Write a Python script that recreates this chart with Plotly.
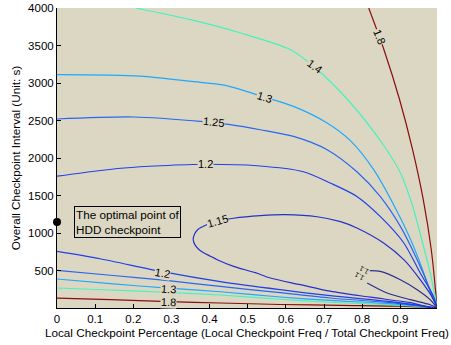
import plotly.graph_objects as go

# ---- contour lines (x: local checkpoint fraction, y: interval in s)
c18_up_x = [0.817, 0.857, 0.898, 0.932, 0.960, 0.981, 0.992, 0.996]
c18_up_y = [4000, 3444, 2777, 2111, 1444, 777, 244, 0]
c18_lo_x = [0, 0.140, 0.292, 0.428, 0.585, 0.743, 0.900, 0.996]
c18_lo_y = [131, 111, 84, 67, 47, 35, 24, 0]

c14_up_x = [0.206, 0.350, 0.481, 0.612, 0.674, 0.769, 0.855, 0.900, 0.931, 0.956, 0.978, 0.990, 0.996]
c14_up_y = [4000, 3844, 3667, 3444, 3217, 2737, 2177, 1804, 1377, 911, 471, 177, 0]
c14_lo_x = [0, 0.140, 0.292, 0.428, 0.585, 0.716, 0.874, 0.996]
c14_lo_y = [267, 240, 207, 173, 117, 77, 44, 0]

c13_up_x = [0, 0.218, 0.358, 0.438, 0.543, 0.620, 0.708, 0.769, 0.830, 0.887, 0.929, 0.963, 0.978, 0.996]
c13_up_y = [3111, 3091, 3017, 2971, 2813, 2688, 2467, 2231, 1844, 1331, 888, 444, 217, 0]
c13_lo_x = [0, 0.140, 0.292, 0.428, 0.585, 0.716, 0.874, 0.996]
c13_lo_y = [387, 324, 264, 217, 147, 101, 57, 0]

c125_up_x = [0, 0.201, 0.376, 0.454, 0.533, 0.620, 0.708, 0.786, 0.847, 0.900, 0.944, 0.978, 0.996]
c125_up_y = [2520, 2547, 2488, 2444, 2377, 2288, 2111, 1817, 1488, 1088, 644, 244, 0]
c125_lo_x = [0, 0.140, 0.292, 0.428, 0.585, 0.716, 0.874, 0.996]
c125_lo_y = [501, 437, 364, 288, 204, 133, 71, 0]

c12_up_x = [0, 0.087, 0.176, 0.271, 0.389, 0.525, 0.646, 0.716, 0.786, 0.847, 0.909, 0.952, 0.987, 0.996]
c12_up_y = [1757, 1817, 1867, 1897, 1917, 1897, 1817, 1667, 1488, 1221, 867, 467, 155, 0]
c12_lo_x = [0, 0.113, 0.276, 0.428, 0.585, 0.716, 0.874, 0.996]
c12_lo_y = [755, 657, 484, 351, 244, 164, 84, 0]

c115_x = [0.996, 0.926, 0.821, 0.716, 0.638, 0.559, 0.520, 0.463, 0.420, 0.402, 0.376, 0.363, 0.357,
          0.361, 0.370, 0.389, 0.419, 0.463, 0.533, 0.598, 0.682, 0.743, 0.786, 0.856, 0.909, 0.952, 0.987, 0.996]
c115_y = [0, 71, 144, 224, 311, 400, 471, 555, 644, 691, 764, 831, 911,
          991, 1051, 1104, 1157, 1197, 1231, 1244, 1217, 1151, 1067, 867, 644, 377, 111, 0]

c11_up_x = [0.816, 0.847, 0.900, 0.944, 0.978, 0.996]
c11_up_y = [497, 488, 377, 244, 111, 0]
c11_lo_x = [0.813, 0.865, 0.926, 0.978, 0.996]
c11_lo_y = [333, 200, 111, 44, 0]

# contour labels: text, x, y
label_text = ["1.8", "1.4", "1.3", "1.25", "1.2", "1.15", "1.2", "1.3", "1.8", "1.1", "1.1"]
label_x = [0.844, 0.674, 0.543, 0.411, 0.389, 0.420, 0.276, 0.292, 0.292, 0.806, 0.793]
label_y = [3621, 3221, 2813, 2475, 1917, 1157, 471, 253, 80, 508, 420]

# optimal point
opt_x = [0]
opt_y = [1147]
opt_text = "The optimal point of<br>HDD checkpoint"

x_tickvals = [0, 0.1, 0.2, 0.3, 0.4, 0.5, 0.6, 0.7, 0.8, 0.9]
y_tickvals = [500, 1000, 1500, 2000, 2500, 3000, 3500, 4000]
x_title = "Local Checkpoint Percentage (Local Checkpoint Freq / Total Checkpoint Freq)"
y_title = "Overall Checkpoint Interval (Unit: s)"

# ---- styles
BG = "#dcd7c3"
FONT = "Liberation Sans, Arial, sans-serif"
col = {1.8: "#8a0d0d", 1.4: "#45f2be", 1.3: "#1ea8ff", 1.25: "#2a66f2",
       1.2: "#2040ea", 1.15: "#2630c8", 1.1: "#2b2f8f"}
label_angle = [68, 36, 17, 6, 0, -16, 10, 4, 2, -150, -150]
label_size = [11, 11, 11, 11, 11, 11, 11, 11, 11, 7, 7]

lines = [
    (c18_up_x, c18_up_y, 1.8), (c18_lo_x, c18_lo_y, 1.8),
    (c14_up_x, c14_up_y, 1.4), (c14_lo_x, c14_lo_y, 1.4),
    (c13_up_x, c13_up_y, 1.3), (c13_lo_x, c13_lo_y, 1.3),
    (c125_up_x, c125_up_y, 1.25), (c125_lo_x, c125_lo_y, 1.25),
    (c12_up_x, c12_up_y, 1.2), (c12_lo_x, c12_lo_y, 1.2),
    (c115_x, c115_y, 1.15),
    (c11_up_x, c11_up_y, 1.1), (c11_lo_x, c11_lo_y, 1.1),
]

fig = go.Figure()
for xs, ys, lv in lines:
    fig.add_trace(go.Scatter(x=xs, y=ys, mode="lines",
                             line=dict(color=col[lv], width=1.2, shape="spline", smoothing=0.8),
                             hoverinfo="skip", showlegend=False))

fig.add_trace(go.Scatter(x=opt_x, y=opt_y, mode="markers",
                         marker=dict(color="black", size=8), cliponaxis=False,
                         showlegend=False, hoverinfo="skip"))

for t, x, y, a, s in zip(label_text, label_x, label_y, label_angle, label_size):
    fig.add_annotation(x=x, y=y, text=t, showarrow=False, textangle=a,
                       font=dict(family=FONT, size=s, color="black"),
                       bgcolor=BG, borderpad=0)

fig.add_annotation(x=0.0435, y=opt_y[0], text=opt_text, showarrow=False,
                   xanchor="left", yanchor="middle", align="left",
                   font=dict(family=FONT, size=11.7, color="black"),
                   bgcolor=BG, bordercolor="black", borderwidth=1, borderpad=1)

# axis titles
fig.add_annotation(xref="paper", yref="paper", x=0.5, y=-0.083, text=x_title,
                   showarrow=False, xanchor="center", yanchor="middle",
                   font=dict(family=FONT, size=11.7, color="black"))
fig.add_annotation(xref="paper", yref="paper", x=-0.11, y=0.5, text=y_title, textangle=-90,
                   showarrow=False, xanchor="center", yanchor="middle",
                   font=dict(family=FONT, size=11.7, color="black"))

fig.update_layout(
    width=451, height=345,
    margin=dict(l=57, r=14, t=8, b=37, autoexpand=False),
    paper_bgcolor="white", plot_bgcolor=BG,
    font=dict(family=FONT, size=11.5, color="black"),
    showlegend=False,
)
fig.update_xaxes(range=[0, 0.996], tickvals=x_tickvals, ticktext=[f"{v:g}" for v in x_tickvals],
                 ticks="inside", ticklen=4, tickcolor="black", showgrid=False, zeroline=False,
                 showline=True, linecolor="black", linewidth=1, automargin=False)
fig.update_yaxes(range=[0, 4000], tickvals=y_tickvals,
                 ticks="inside", ticklen=4, tickcolor="black", showgrid=False, zeroline=False,
                 showline=True, linecolor="black", linewidth=1, automargin=False)

fig.write_html("out.html", config={"displayModeBar": False, "staticPlot": True},
               post_script="document.body.style.margin='0';document.body.style.overflow='hidden';")
